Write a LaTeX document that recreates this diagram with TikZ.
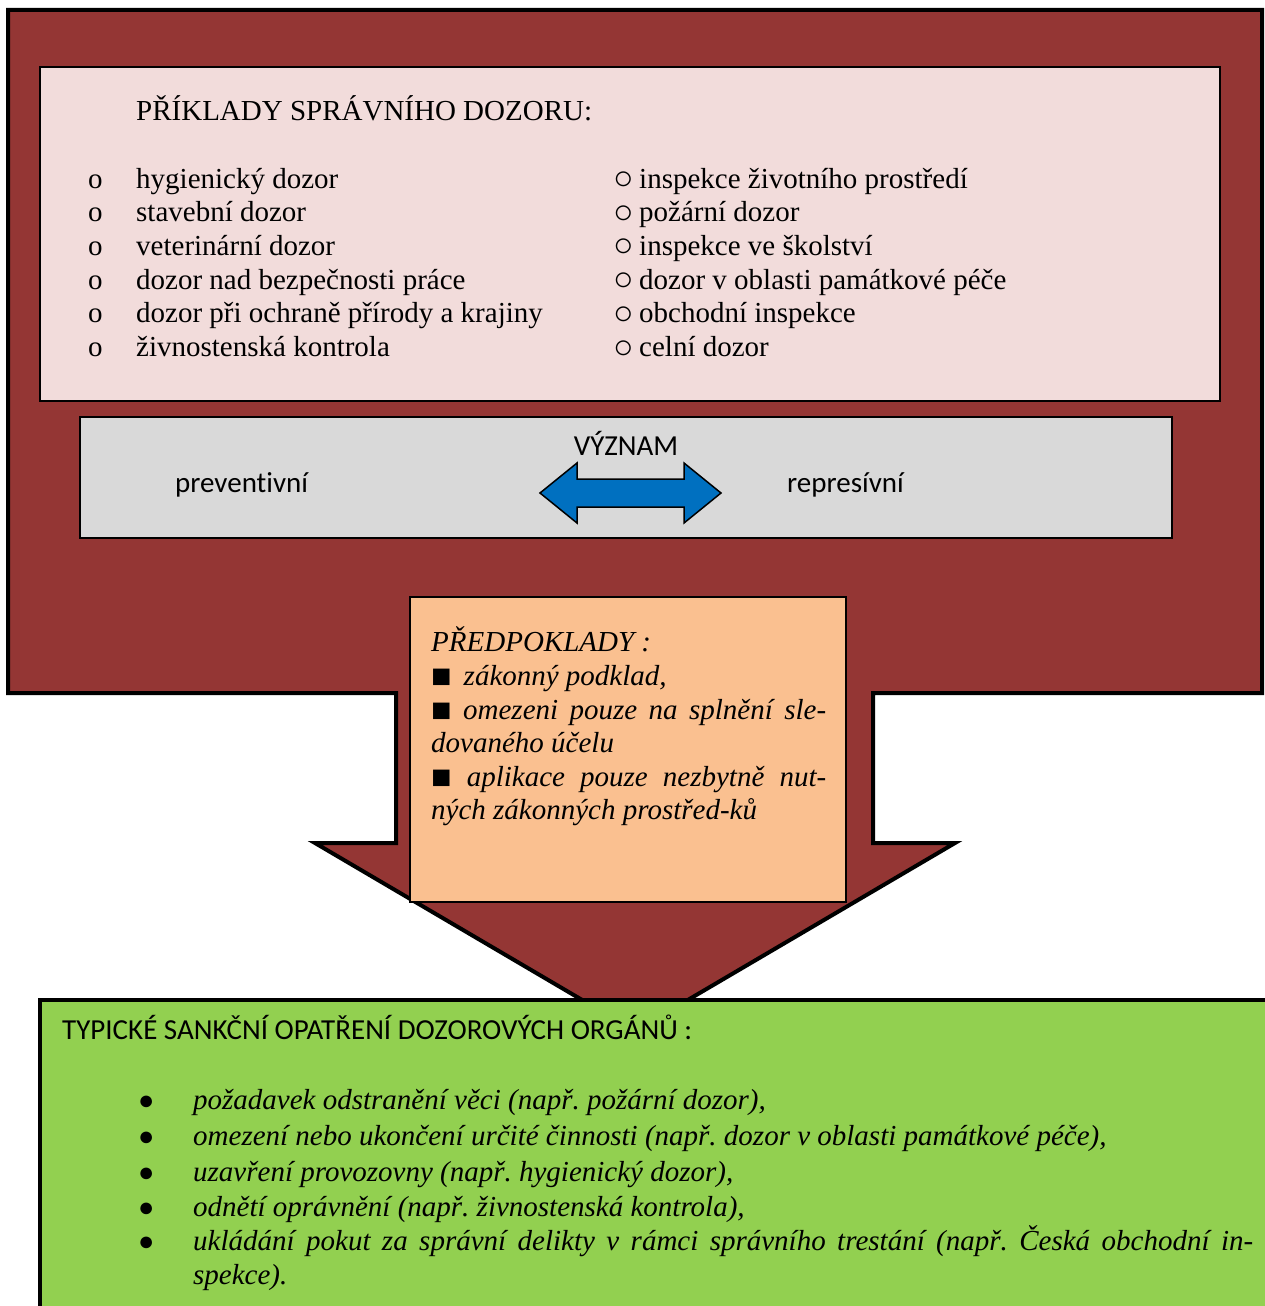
\documentclass[tikz,border=0pt]{standalone}
\usepackage{fontspec}
\setmainfont{Liberation Serif}
\newfontfamily\calfont[Ligatures=NoCommon]{Carlito}
\frenchspacing
\definecolor{frame}{HTML}{943634}
\definecolor{pinkfill}{HTML}{F2DCDB}
\definecolor{grayfill}{HTML}{D9D9D9}
\definecolor{orangefill}{HTML}{FAC090}
\definecolor{greenfill}{HTML}{92D050}
\definecolor{bluefill}{HTML}{0070C0}
\tikzset{
  txt/.style={anchor=base west, inner sep=0pt, font=\fontsize{29}{34}\selectfont},
  sanstxt/.style={txt, font=\calfont\fontsize{29}{34}\selectfont},
  itxt/.style={txt, font=\itshape\fontsize{29}{34}\selectfont},
  panel/.style={draw=black, line width=2pt},
}
% list markers (boxes kept to the height of a text line)
\newcommand{\wcirc}{\raisebox{-1.5pt}[18pt][0pt]{\fontsize{34}{34}\selectfont ○}}
\newcommand{\bsq}{\raisebox{-2pt}[18pt][0pt]{\fontsize{34}{34}\selectfont ■}}
\newcommand{\bdot}{\raisebox{0pt}[18pt][0pt]{\fontsize{27}{27}\selectfont ●}}
\begin{document}
\begin{tikzpicture}[x=1pt,y=-1pt]
\useasboundingbox (0,0) rectangle (1265,1306);

% outer frame with the downward arrow
\draw[fill=frame, line width=4pt, line join=miter]
  (8,10) -- (1262,10) -- (1262,693) -- (873,693) -- (873,843) -- (955,843)
  -- (635,1031) -- (315,843) -- (396,843) -- (396,693) -- (8,693) -- cycle;

% examples panel
\draw[panel, fill=pinkfill] (40,67) rectangle (1220,401);
\node[txt] (head) at (136,120) {PŘÍKLADY SPRÁVNÍHO DOZORU:};
\foreach \t [count=\i] in {hygienický dozor, stavební dozor, veterinární dozor,
    dozor nad bezpečnosti práce, dozor při ochraně přírody a krajiny, živnostenská kontrola}{
  \node[txt] (lb\i) at (88,{188+33.7*(\i-1)}) {o};
  \node[txt] (lt\i) at (136,{188+33.7*(\i-1)}) {\t};
}
\foreach \t [count=\i] in {inspekce životního prostředí, požární dozor, inspekce ve školství,
    dozor v oblasti památkové péče, obchodní inspekce, celní dozor}{
  \node[txt] (rb\i) at (613,{188+33.7*(\i-1)}) {\wcirc};
  \node[txt] (rt\i) at (639,{188+33.7*(\i-1)}) {\t};
}

% meaning panel
\draw[panel, fill=grayfill] (80,417) rectangle (1172,538);
\node[sanstxt, anchor=base] (meaning) at (626,455) {VÝZNAM};
\node[sanstxt] (prev) at (175,492) {preventivní};
\node[sanstxt] (repr) at (787,492) {represívní};
\draw[fill=bluefill, line width=1.5pt, line join=miter]
  (540,493) -- (577,463) -- (577,479) -- (684,479) -- (684,463) -- (721,493)
  -- (684,523) -- (684,507) -- (577,507) -- (577,523) -- cycle;

% prerequisites panel
\draw[draw=black, line width=1.5pt, fill=orangefill] (410,597) rectangle (846,902);
\node[itxt] (pre) at (431,651.5) {PŘEDPOKLADY :};
\node[itxt] (pre1) at (431,685) {\bsq\hspace{12pt}zákonný podklad,};
\node[itxt] (pre2) at (431,719) {\makebox[395pt][s]{\bsq{} omezeni pouze na splnění sle-}};
\node[itxt] (pre3) at (431,752) {dovaného účelu};
\node[itxt] (pre4) at (431,786) {\makebox[395pt][s]{\bsq{} aplikace pouze nezbytně nut-}};
\node[itxt] (pre5) at (431,819) {ných zákonných prostřed-ků};

% sanctions panel
\fill[greenfill] (40,999.5) rectangle (1275,1316);
\draw[line width=4pt] (40,1316) -- (40,999.5) -- (1275,999.5);
\node[sanstxt] (sanc) at (62,1039) {TYPICKÉ SANKČNÍ OPATŘENÍ DOZOROVÝCH ORGÁNŮ :};
\foreach \y/\t [count=\i] in {1109/{požadavek odstranění věci (např. požární dozor),},
    1145/{omezení nebo ukončení určité činnosti (např. dozor v oblasti památkové péče),},
    1181/{uzavření provozovny (např. hygienický dozor),},
    1216/{odnětí oprávnění (např. živnostenská kontrola),}}{
  \node[txt] (sb\i) at (138,\y) {\bdot};
  \node[itxt] (st\i) at (193,\y) {\t};
}
\node[txt] (sb5) at (138,1250) {\bdot};
\node[itxt] (st5) at (193,1250) {\makebox[1060pt][s]{ukládání pokut za správní delikty v rámci správního trestání (např. Česká obchodní in-}};
\node[itxt] (st6) at (193,1284) {spekce).};
\end{tikzpicture}
\end{document}
